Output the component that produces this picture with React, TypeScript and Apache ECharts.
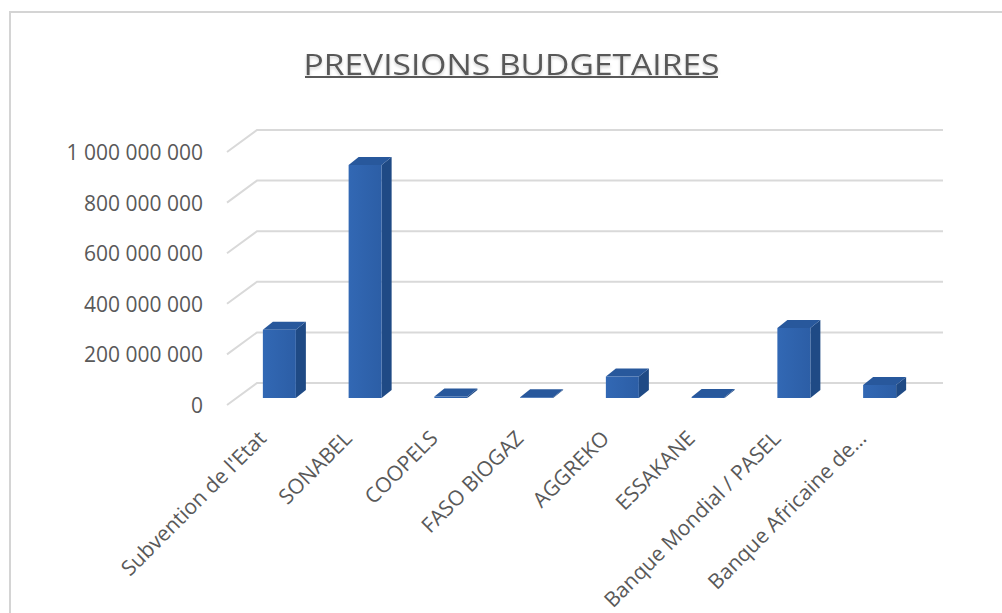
import React, { useEffect, useRef } from "react";
import * as echarts from "echarts";

// Budget forecast per funding source (FCFA)
const categories = [
  "Subvention de l'Etat",
  "SONABEL",
  "COOPELS",
  "FASO BIOGAZ",
  "AGGREKO",
  "ESSAKANE",
  "Banque Mondial / PASEL",
  "Banque Africaine de...",
];
const budget = [270000000, 921000000, 6000000, 2500000, 85000000, 4000000, 277000000, 51000000];
const yTicks = [0, 200000000, 400000000, 600000000, 800000000, 1000000000];
const titleText = "PREVISIONS BUDGETAIRES";

const TEXT = "#595959";
const GRID = "#d9d9d9";
// perspective offsets
const WALL_DX = 30;
const WALL_DY = -22;
const BAR_SHIFT_X = 9.5;
const BAR_SHIFT_Y = -7;
const BAR_DX = 10;
const BAR_DY = -8;
// category labels sit on the floor's front edge, a little left of the bars
const LABEL_SHIFT = 8;

const fmt = (v: number) => String(v).replace(/\B(?=(\d{3})+(?!\d))/g, " ");

export default function App() {
  const ref = useRef<HTMLDivElement>(null);
  useEffect(() => {
    const chart = echarts.init(ref.current!, null, { renderer: "svg" });
    chart.setOption({
      animation: false,
      backgroundColor: "#ffffff",
      textStyle: { fontFamily: "'Open Sans', sans-serif" },
      graphic: [
        {
          type: "rect",
          shape: { x: 10, y: 12, width: 1010, height: 620 },
          style: { fill: "none", stroke: "#d4d4d4", lineWidth: 2 },
          z: -1,
        },
        {
          type: "text",
          x: 511.5,
          y: 63,
          scaleX: 1.12,
          style: {
            text: titleText,
            fontSize: 30,
            fontFamily: "'Open Sans', sans-serif",
            fill: TEXT,
            align: "center",
            verticalAlign: "middle",
            textShadowColor: "rgba(0,0,0,0.18)",
            textShadowBlur: 3,
            textShadowOffsetY: 2,
          },
        },
        {
          type: "line",
          shape: { x1: 305, y1: 77, x2: 718, y2: 77 },
          style: { stroke: TEXT, lineWidth: 2 },
        },
      ],
      grid: [
        { left: 227, right: 89, top: 152, bottom: 208, containLabel: false },
        {
          left: 227 - LABEL_SHIFT,
          right: 89 + LABEL_SHIFT,
          top: 152,
          bottom: 208,
          containLabel: false,
        },
      ],
      xAxis: [
        {
          type: "category",
          gridIndex: 0,
          data: categories,
          axisLine: { show: false },
          axisTick: { show: false },
          axisLabel: { show: false },
        },
        {
          type: "category",
          gridIndex: 1,
          data: categories,
          axisLine: { show: false },
          axisTick: { show: false },
          axisLabel: {
            rotate: 45,
            margin: 29,
            color: TEXT,
            fontSize: 21,
            interval: 0,
          },
        },
      ],
      yAxis: [
        {
          type: "value",
          gridIndex: 0,
          min: 0,
          max: 1000000000,
          interval: 200000000,
          axisLine: { show: false },
          axisTick: { show: false },
          splitLine: { show: false },
          axisLabel: { color: TEXT, fontSize: 21, margin: 24, formatter: (v: number) => fmt(v) },
        },
        {
          type: "value",
          gridIndex: 1,
          min: 0,
          max: 1000000000,
          interval: 200000000,
          show: false,
        },
      ],
      series: [
        {
          type: "custom",
          name: "walls",
          z: 1,
          silent: true,
          xAxisIndex: 0,
          yAxisIndex: 0,
          data: yTicks.map((v) => [0, v]),
          encode: { x: 0, y: 1 },
          renderItem: (params: any, api: any) => {
            const cs = params.coordSys;
            const y = api.coord([0, api.value(1)])[1];
            const x0 = cs.x;
            const x1 = cs.x + cs.width;
            return {
              type: "polyline",
              shape: {
                points: [
                  [x0, y],
                  [x0 + WALL_DX, y + WALL_DY],
                  [x1 + WALL_DX, y + WALL_DY],
                ],
              },
              style: { stroke: GRID, lineWidth: 2, fill: "none" },
            };
          },
        },
        {
          type: "custom",
          name: "budget",
          z: 2,
          xAxisIndex: 0,
          yAxisIndex: 0,
          data: budget.map((v, i) => [i, v]),
          encode: { x: 0, y: 1 },
          renderItem: (params: any, api: any) => {
            const i = api.value(0);
            const v = api.value(1);
            const top = api.coord([i, v]);
            const base = api.coord([i, 0]);
            const band = api.size([1, 0])[0];
            const w = band * 0.385;
            const x = top[0] - w / 2 + BAR_SHIFT_X;
            const yT = top[1] + BAR_SHIFT_Y;
            const yB = base[1] + BAR_SHIFT_Y;
            return {
              type: "group",
              children: [
                {
                  type: "polygon",
                  shape: {
                    points: [
                      [x + w, yT],
                      [x + w + BAR_DX, yT + BAR_DY],
                      [x + w + BAR_DX, yB + BAR_DY],
                      [x + w, yB],
                    ],
                  },
                  style: { fill: "#1f4a85" },
                },
                {
                  type: "polygon",
                  shape: {
                    points: [
                      [x, yT],
                      [x + BAR_DX, yT + BAR_DY],
                      [x + w + BAR_DX, yT + BAR_DY],
                      [x + w, yT],
                    ],
                  },
                  style: { fill: "#28589c" },
                },
                {
                  type: "rect",
                  shape: { x, y: yT, width: w, height: Math.max(yB - yT, 0) },
                  style: {
                    fill: new echarts.graphic.LinearGradient(0, 0, 1, 0, [
                      { offset: 0, color: "#3268b4" },
                      { offset: 1, color: "#2c5ea6" },
                    ]),
                  },
                },
              ],
            };
          },
        },
      ],
    });
    return () => chart.dispose();
  }, []);
  return (
    <div
      ref={ref}
      style={{ position: "fixed", left: 0, top: 0, width: 1002, height: 613 }}
    />
  );
}
